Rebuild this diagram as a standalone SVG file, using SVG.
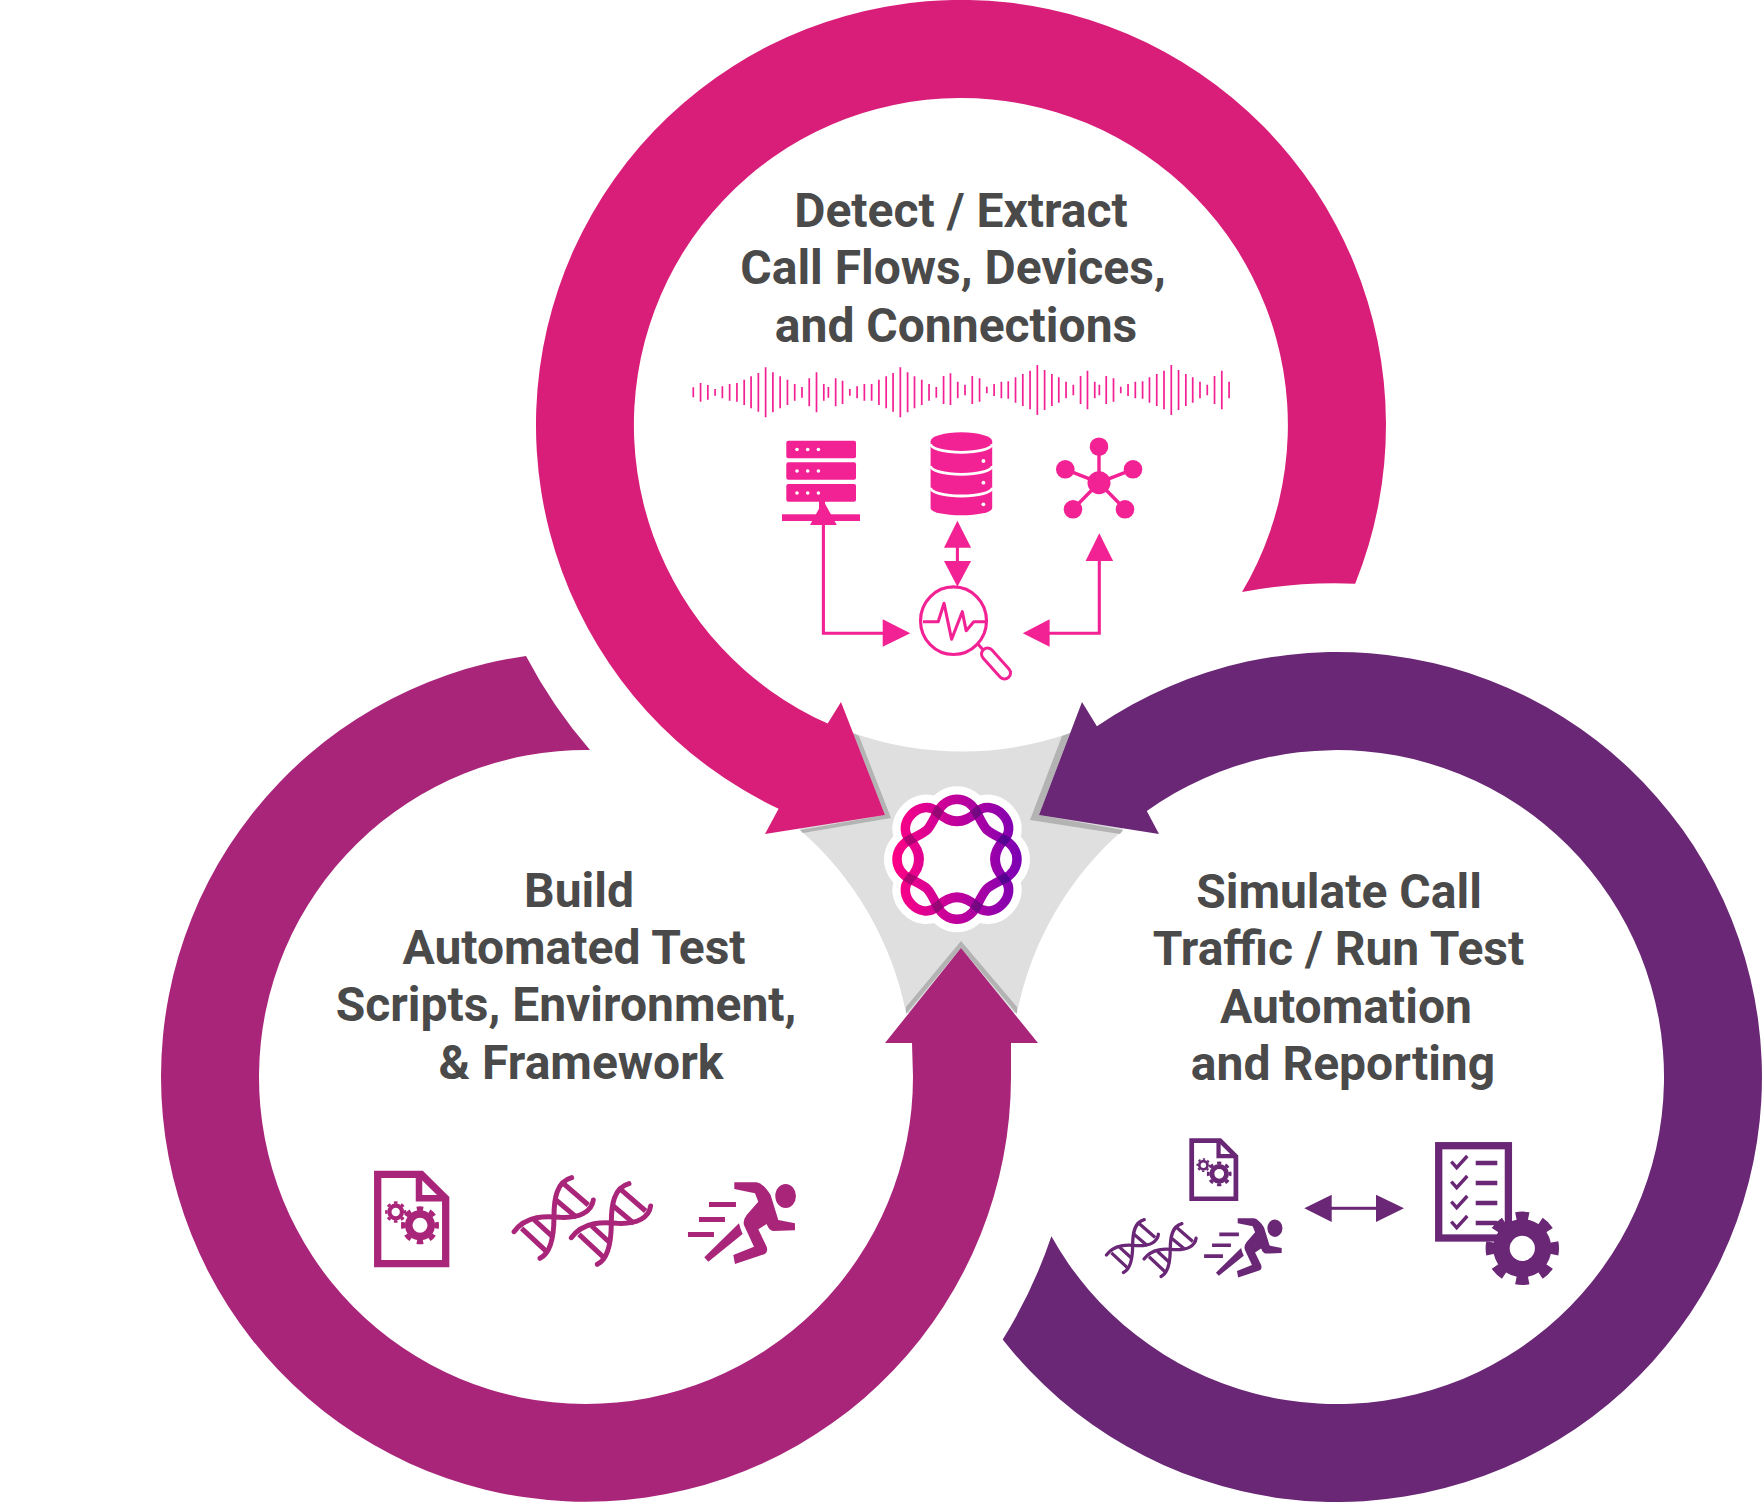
<svg xmlns="http://www.w3.org/2000/svg" width="1762" height="1502" viewBox="0 0 1762 1502">
<style>
.t{font-family:Roboto,"Liberation Sans",sans-serif;font-weight:700;font-size:48px;fill:#4a4a4a;text-anchor:middle}
.pk{fill:#f32294}.pks{stroke:#f32294;fill:none;stroke-width:3.1}
.mg{fill:#a9257a;color:#a9257a}.pu{fill:#692775;color:#692775}
.shadow{fill:#b3b3b3}
.strand{fill:none;stroke:url(#lg);stroke-width:9.5}
.cross{fill:none;stroke:url(#dk);stroke-width:9.5}
.halo{fill:#fff;stroke:#fff;stroke-width:26;stroke-linejoin:round}
</style>
<defs>
<linearGradient id="lg" gradientUnits="userSpaceOnUse" x1="-65" y1="0" x2="65" y2="0"><stop offset="0" stop-color="#ff0085"/><stop offset=".5" stop-color="#c0009c"/><stop offset="1" stop-color="#7a00b4"/></linearGradient>
<linearGradient id="dk" gradientUnits="userSpaceOnUse" x1="-65" y1="0" x2="65" y2="0"><stop offset="0" stop-color="#b80070"/><stop offset=".5" stop-color="#8a0a78"/><stop offset="1" stop-color="#42009a"/></linearGradient>
<path id="sa" d="M-19.5-47.1C-10.7-64.3 10.7-64.3 19.5-47.1C29.5-27.5 27.5-29.5 47.1-19.5C64.3-10.7 64.3 10.7 47.1 19.5C27.5 29.5 29.5 27.5 19.5 47.1C10.7 64.3-10.7 64.3-19.5 47.1C-29.5 27.5-27.5 29.5-47.1 19.5C-64.3 10.7-64.3-10.7-47.1-19.5C-27.5-29.5-29.5-27.5-19.5-47.1Z"/>
<path id="sb" d="M-19.5-47.1Q0-28.9 19.5-47.1C35.9-62.4 62.4-35.9 47.1-19.5Q28.9 0 47.1 19.5C62.4 35.9 35.9 62.4 19.5 47.1Q0 28.9-19.5 47.1C-35.9 62.4-62.4 35.9-47.1 19.5Q-28.9 0-47.1-19.5C-62.4-35.9-35.9-62.4-19.5-47.1Z"/>
<mask id="m" maskUnits="userSpaceOnUse" x="-80" y="-80" width="160" height="160"><use href="#sa" fill="none" stroke="#fff" stroke-width="9.5"/></mask>
<g id="gear" fill="none" stroke="currentColor">
<circle r="11.25" stroke-width="7.5"/>
<circle r="16.8" stroke-width="4.4" pathLength="16" stroke-dasharray="1 1" stroke-dashoffset=".5"/>
</g>
<g id="doc">
<path d="M3.7 3.6H47.3L71.7 27.8V93H3.7Z" fill="#fff" stroke="currentColor" stroke-width="7.3"/>
<path d="M45 3V27.5H72" fill="none" stroke="currentColor" stroke-width="6.5"/>
<use href="#gear" transform="translate(21.7 41.3) scale(.56)"/>
<use href="#gear" transform="translate(46 54.6)"/>
</g>
<g id="helix" fill="none" stroke="currentColor" stroke-width="15" stroke-linecap="round">
<path d="M492 275C530 225 590 228 630 232C690 235 725 215 730 180"/>
<path d="M665 113C620 125 612 175 612 230C612 290 600 340 570 355"/>
<path d="M640 130L715 195M618 180L680 232M515 265L590 335M553 240L610 292" stroke-linecap="butt"/>
</g>
<g id="dna"><use href="#helix"/><use href="#helix" x="172" y="18"/></g>
<g id="runner" fill="currentColor">
<ellipse cx="1307" cy="168" rx="31" ry="36"/>
<path d="M1153 127L1220 127Q1240 130 1262 165L1285 240L1335 250V271L1270 273Q1258 273 1250 252L1225 268L1250 320Q1255 335 1245 342L1155 372L1150 345L1212 320L1185 262Q1175 245 1190 225L1225 185L1215 160L1153 147Z"/>
<path d="M1063 352L1167 250Q1172 270 1178 282L1075 365Z"/>
<path d="M1077 186H1158V201H1077ZM1047 231H1125V246H1047ZM1014 276H1092V291H1014Z"/>
</g>
</defs>
<rect width="1762" height="1502" fill="#fff"/>
<g id="hub-bg">
<path fill="#e0dfe0" d="M853 733A327 327 0 0 0 1070 733L1123 830A327 327 0 0 0 1017 1013L906 1013A327 327 0 0 0 800 830Z"/>
<polygon class="shadow" points="853,733 859,736 891,818 803,833 800,830 885,815"/>
<polygon class="shadow" points="1070,733 1062,736 1030,820 1120,834 1123,830 1039,815"/>
<polygon class="shadow" points="961,941 906,1007 906,1014 961,948 1017,1014 1017,1007"/>
</g>
<g id="connectors">
<path id="ring-detect" fill="#d91e79" d="M1355.2 583.7A425 425 0 1 0 778.6 808.8L765 834L885 815L841 702L827.7 723.6A327 327 0 1 1 1242 592A493 493 0 0 1 1355.2 583.7Z"/>
<path id="ring-simulate" fill="#692775" d="M1096.9 726.3A425 425 0 1 1 1002.7 1339.5A492 492 0 0 0 1051.4 1236.3A327 327 0 1 0 1146.8 811.1L1159 834L1039 815L1082 702Z"/>
<path id="ring-build" fill="#a9257a" d="M526 656A425 425 0 1 0 1011 1077L1011 1043L1038 1043L961 948L885 1043L912 1043L913 1077A327 327 0 1 1 590 750A493 493 0 0 1 526 656Z"/>
</g>
<g id="logo" transform="translate(957 859.3)">
<use href="#sa" class="halo"/><use href="#sb" class="halo"/>
<use href="#sa" class="strand"/><use href="#sb" class="strand"/>
<use href="#sb" class="cross" mask="url(#m)"/>
</g>
<g id="node-detect">
<text class="t" x="961" y="226.5">Detect / Extract</text>
<text class="t" x="953" y="284">Call Flows, Devices,</text>
<text class="t" x="956" y="341.5">and Connections</text>
<path id="waveform" transform="translate(660 340) scale(.3827 .3333)" fill="none" stroke="#f32294" stroke-width="4.5" d="M87 142V172M106 129V185M125 135V179M144 147V167M163 139V175M182 132V182M201 129V185M220 119V195M238 109V205M257 99V215M276 82V232M295 97V217M314 109V205M333 119V195M352 132V182M371 141V173M390 115V199M409 97V217M428 132V182M440 141V173M459 115V199M477 122V192M496 147V167M515 139V175M534 132V182M553 132V182M572 119V195M591 109V205M609 99V215M628 82V232M647 97V217M665 109V205M684 119V195M703 132V182M722 141V173M741 108V192M759 100V195M778 125V175M797 134V166M816 108V192M835 115V185M854 140V160M873 132V168M892 125V175M910 124V176M929 112V188M948 102V198M967 92V208M986 75V225M1005 90V210M1024 102V198M1042 112V188M1061 125V175M1080 134V166M1099 108V192M1117 92V208M1136 125V175M1148 134V166M1166 108V192M1185 115V185M1204 140V160M1223 132V168M1242 125V175M1261 124V176M1279 112V188M1298 102V198M1317 92V208M1336 75V225M1355 90V210M1374 102V198M1392 112V188M1411 125V175M1430 134V166M1449 108V192M1468 92V208M1487 125V175"/>
<g id="icon-server" class="pk">
<rect x="786.3" y="440.7" width="69.7" height="17.5" rx="2"/><rect x="786.3" y="462.3" width="69.7" height="17.5" rx="2"/><rect x="786.3" y="484" width="69.7" height="17.7" rx="2"/>
<rect x="782" y="514.3" width="78" height="6.7"/><rect x="819" y="500" width="6" height="15"/>
<g fill="#fff"><circle cx="797" cy="449.5" r="1.8"/><circle cx="807.7" cy="449.5" r="1.8"/><circle cx="818.4" cy="449.5" r="1.8"/><circle cx="797" cy="471" r="1.8"/><circle cx="807.7" cy="471" r="1.8"/><circle cx="818.4" cy="471" r="1.8"/><circle cx="797" cy="493" r="1.8"/><circle cx="807.7" cy="493" r="1.8"/><circle cx="818.4" cy="493" r="1.8"/></g>
</g>
<g id="icon-database">
<path class="pk" d="M930.6 441.3A30.8 9 0 0 1 992.2 441.3V508.3A30.8 7 0 0 1 930.6 508.3Z"/>
<g fill="none" stroke="#fff" stroke-width="2.8"><path d="M930.6 444A30.8 8.3 0 0 0 992.2 444"/><path d="M930.6 466A30.8 8.3 0 0 0 992.2 466"/><path d="M930.6 487.7A30.8 8.3 0 0 0 992.2 487.7"/></g>
<g fill="#fff"><circle cx="983.4" cy="461" r="1.9"/><circle cx="983.4" cy="482.7" r="1.9"/><circle cx="983.4" cy="504.3" r="1.9"/></g>
</g>
<g id="icon-network">
<path fill="none" stroke="#f32294" stroke-width="3.4" d="M1099 482.7V446.7M1099 482.7L1065.3 469.3M1099 482.7L1133 469.3M1099 482.7L1073 509.3M1099 482.7L1125 509.3"/>
<g class="pk"><circle cx="1099" cy="482.7" r="11.5"/><circle cx="1099" cy="446.7" r="9.3"/><circle cx="1065.3" cy="469.3" r="9.3"/><circle cx="1133" cy="469.3" r="9.3"/><circle cx="1073" cy="509.3" r="9.3"/><circle cx="1125" cy="509.3" r="9.3"/></g>
</g>
<g id="icon-magnifier">
<ellipse class="pks" cx="953.5" cy="620.7" rx="33" ry="33.8"/>
<path class="pks" stroke-linejoin="round" d="M922.9 621.7H938.2L944 603.3L951.6 639.3L962.3 611.7L966.2 630.7L973.8 621.7H985.3"/>
<path class="pks" d="M977 643L985 652"/>
<path fill="none" stroke="#f32294" stroke-width="15" stroke-linecap="round" d="M987.5 654L1004.5 673"/>
<path fill="none" stroke="#fff" stroke-width="9" stroke-linecap="round" d="M987.5 654L1004.5 673"/>
</g>
<g id="links-detect">
<path class="pks" d="M823.4 525V633.3H883"/><polygon class="pk" points="823.4,500.7 836.8,525 810,525"/><polygon class="pk" points="882.7,619.3 910.3,633.3 882.7,646.7"/>
<path class="pks" d="M957.4 547V562"/><polygon class="pk" points="957.4,520.7 971.1,547.7 944,547.7"/><polygon class="pk" points="944,561 971.1,561 957.4,586.7"/>
<path class="pks" d="M1099.3 561V633.3H1049"/><polygon class="pk" points="1099.3,533.3 1113.1,561 1085.6,561"/><polygon class="pk" points="1049.6,619.3 1049.6,646.7 1022.8,633.3"/>
</g>
</g>
<g id="node-build">
<text class="t" x="579" y="906.5">Build</text>
<text class="t" x="574" y="963.5">Automated Test</text>
<text class="t" x="566" y="1021">Scripts, Environment,</text>
<text class="t" x="581" y="1078.5">&amp; Framework</text>
<g class="mg">
<use href="#doc" transform="translate(374 1170.7)"/>
<use href="#dna" transform="translate(350 1140) scale(.3333)"/>
<use href="#runner" transform="translate(350 1140) scale(.3333)"/>
</g>
</g>
<g id="node-simulate">
<text class="t" x="1339" y="907.5">Simulate Call</text>
<text class="t" x="1338.5" y="965">Traffic / Run Test</text>
<text class="t" x="1346" y="1022.5">Automation</text>
<text class="t" x="1343" y="1080">and Reporting</text>
<g class="pu">
<use href="#doc" transform="translate(1189.3 1138.3) scale(.65)"/>
<use href="#dna" transform="translate(998.8 1194.9) scale(.2187)"/>
<use href="#runner" transform="translate(959 1187.6) scale(.2417)"/>
<polygon points="1304.3,1208.3 1331.7,1194.7 1331.7,1222"/><polygon points="1376,1194.7 1404,1208.3 1376,1222"/><rect x="1331" y="1206.8" width="46" height="3"/>
<rect x="1438.7" y="1145.7" width="69.7" height="92.3" fill="#fff" stroke="currentColor" stroke-width="7.3"/>
<path fill="none" stroke="currentColor" stroke-width="3.4" d="M1451.3 1161.7L1456.7 1167.7L1467.3 1156M1451.3 1181.7L1456.7 1187.7L1467.3 1176M1451.3 1201.7L1456.7 1207.7L1467.3 1196M1451.3 1221.7L1456.7 1227.7L1467.3 1216"/>
<path fill="none" stroke="currentColor" stroke-width="4.7" d="M1475.7 1163H1497.3M1475.7 1183H1497.3M1475.7 1203H1497.3M1475.7 1223H1497.3"/>
<g id="icon-gear-large" transform="translate(1522.3 1248.3)" fill="none" stroke="currentColor"><circle r="20.8" stroke-width="16.4"/><circle r="32.5" stroke-width="8.4" pathLength="16" stroke-dasharray="1 1" stroke-dashoffset=".5"/></g>
</g>
</g>
</svg>
